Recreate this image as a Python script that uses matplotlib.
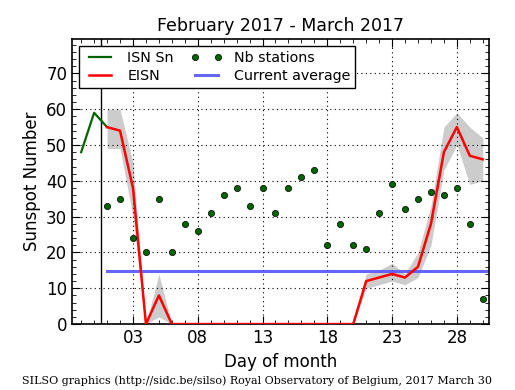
import matplotlib
matplotlib.use('Agg')
import matplotlib.pyplot as plt
import numpy as np

# ISN Sn (end of February, start of March)
isn_days = [-1, 0, 1]
isn_vals = [48, 59, 55]

# EISN for March 2017
days = list(range(1, 31))
eisn = [55, 54, 38, 0, 8, 0, 0, 0, 0, 0,
        0, 0, 0, 0, 0, 0, 0, 0, 0, 0,
        12, 13, 14, 13, 16, 28, 48, 55, 47, 46]
eisn_lo = [49, 49, 30, 0, 2, 0, 0, 0, 0, 0,
           0, 0, 0, 0, 0, 0, 0, 0, 0, 0,
           10, 11, 12, 11, 13, 22, 43, 50, 39, 40]
eisn_hi = [60, 60, 45, 0, 14, 0, 0, 0, 0, 0,
           0, 0, 0, 0, 0, 0, 0, 0, 0, 0,
           14, 15, 17, 14, 20, 33, 55, 59, 55, 52]

# number of stations
nb_stations = [33, 35, 24, 20, 35, 20, 28, 26, 31, 36,
               38, 33, 38, 31, 38, 41, 43, 22, 28, 22,
               21, 31, 39, 32, 35, 37, 36, 38, 28, 7]

current_avg = 14.7

fig = plt.figure(figsize=(5.15, 3.9), dpi=100)
ax = fig.add_axes([0.140, 0.169, 0.810, 0.731])

ax.fill_between(days, eisn_lo, eisn_hi, color='#cccccc', linewidth=0, zorder=1)
ax.plot(isn_days, isn_vals, color='#006400', lw=1.6, label='ISN Sn', zorder=3)
ax.plot(days, eisn, color='red', lw=1.8, label='EISN', zorder=3)
ax.plot(days, nb_stations, 'o', color='#006400', mec='black', mew=0.5, ms=4.5,
        label='Nb stations', zorder=4)
ax.plot([1, 30.5], [current_avg, current_avg], color='#5555ff', lw=2.2, alpha=0.9,
        label='Current average', zorder=2)
ax.axvline(0.5, color='black', lw=1)

ax.set_xlim(-1.7, 30.5)
ax.set_ylim(0, 79.6)
ax.set_xticks([3, 8, 13, 18, 23, 28])
ax.set_xticklabels(['03', '08', '13', '18', '23', '28'])
ax.set_xticks(np.arange(-1, 31), minor=True)
ax.set_yticks(np.arange(0, 71, 10))
ax.set_yticks(np.arange(0, 80, 2), minor=True)
ax.tick_params(which='both', direction='in', top=True, right=True, labelsize=12)
ax.tick_params(which='major', length=6)
ax.tick_params(which='minor', length=3)
ax.grid(True, which='major', color='black', linestyle=(0, (1, 3)), lw=0.8)
for s in ax.spines.values():
    s.set_linewidth(1.2)

ax.set_title('February 2017 - March 2017', fontsize=12.5)
ax.set_xlabel('Day of month', fontsize=12)
ax.set_ylabel('Sunspot Number', fontsize=12)

leg = ax.legend(loc='upper left', ncol=2, numpoints=2, fontsize=10.3, fancybox=False,
                framealpha=1, edgecolor='black', borderaxespad=0.5,
                handlelength=2.2, columnspacing=1.2, handletextpad=0.8,
                borderpad=0.35, labelspacing=0.25)
leg.get_frame().set_linewidth(1)

fig.text(0.5, 0.015, 'SILSO graphics (http://sidc.be/silso) Royal Observatory of Belgium, 2017 March 30',
         ha='center', fontsize=8, family='DejaVu Serif')

fig.savefig('out.png', dpi=100)
